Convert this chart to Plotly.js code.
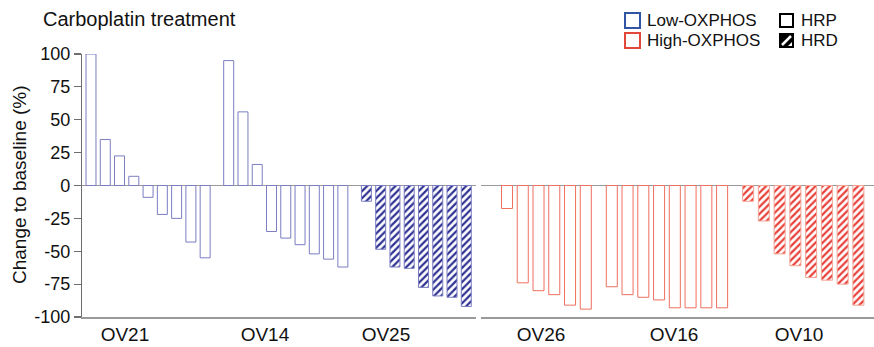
<!DOCTYPE html>
<html>
<head>
<meta charset="utf-8">
<script src="https://cdn.plot.ly/plotly-3.0.1.min.js"></script>
<style>html,body{margin:0;padding:0;background:#fff;}#chart{width:874px;height:347px;}</style>
</head>
<body>
<div id="chart"></div>
<script>
// ---- data ----
const leftGroups = ['OV21', 'OV14', 'OV25'];
const rightGroups = ['OV26', 'OV16', 'OV10'];
const OV21 = [100, 35, 22.5, 7, -9, -22, -25, -43, -55];
const OV14 = [95, 56, 16, -35, -40, -45, -52, -56, -62];
const OV25 = [-12, -48.5, -62, -63, -77.5, -84, -85, -92];
const OV26 = [-17.5, -74, -80, -83, -91, -94];
const OV16 = [-77, -83, -85, -87, -93, -93, -93, -93];
const OV10 = [-12, -27, -52, -61, -70, -72, -75, -91];
const leftHRD = [false, false, true];
const rightHRD = [false, false, true];
const yTicks = [100, 75, 50, 25, 0, -25, -50, -75, -100];

// ---- layout constants ----
const W = 874, H = 347;
const M = {l: 82, r: 0, t: 54, b: 30};
const PW = W - M.l - M.r, PH = H - M.t - M.b;
const GAP = 0.65;
const BARW = 0.7;
const leftLabelOff = [2.38, 2.54, 1.37];
const rightLabelOff = [2.16, 3.95, 3.23];
const FONT = 'Arial, "Liberation Sans", Helvetica, sans-serif';

function groupPositions(groups) {
  let count = 0;
  return groups.map((vals, i) => {
    const start = count + i * GAP;
    count += vals.length;
    return {start: start, xs: vals.map((_, j) => start + j)};
  });
}

const leftVals = [OV21, OV14, OV25];
const rightVals = [OV26, OV16, OV10];
const leftPos = groupPositions(leftVals);
const rightPos = groupPositions(rightVals);

const styles = {
  left:  {line: '#7b7dc2', fg: '#2e3192'},
  right: {line: '#ef6f60', fg: '#e8403a', hatchLine: '#f3a494'}
};

const traces = [];
function addTraces(vals, pos, hrd, side, xa) {
  vals.forEach((v, i) => {
    const st = styles[side];
    const marker = {color: '#ffffff', line: {color: st.line, width: 1}};
    if (hrd[i]) {
      marker.pattern = {shape: '/', fgcolor: st.fg, bgcolor: '#ffffff', size: 5, solidity: 0.45, fillmode: 'replace'};
      marker.line = {color: st.hatchLine || st.line, width: 1};
    }
    traces.push({type: 'bar', x: pos[i].xs, y: v, width: BARW, xaxis: xa, yaxis: 'y',
      marker: marker, showlegend: false, hoverinfo: 'skip'});
  });
}
addTraces(leftVals, leftPos, leftHRD, 'left', 'x');
addTraces(rightVals, rightPos, rightHRD, 'right', 'x2');

function px(x) { return (x - M.l) / PW; }
function py(y) { return (H - M.b - y) / PH; }

const shapes = [
  {type: 'rect', xref: 'paper', yref: 'paper', x0: px(625), x1: px(640), y0: py(28), y1: py(13), line: {color: '#2f55a4', width: 2}},
  {type: 'rect', xref: 'paper', yref: 'paper', x0: px(625), x1: px(640), y0: py(48), y1: py(33), line: {color: '#e2483a', width: 2}},
  {type: 'rect', xref: 'paper', yref: 'paper', x0: px(780), x1: px(793), y0: py(27), y1: py(14), line: {color: '#000', width: 2}},
  {type: 'rect', xref: 'paper', yref: 'paper', x0: px(780), x1: px(793), y0: py(47), y1: py(34), line: {color: '#000', width: 2}, fillcolor: '#000'},
  {type: 'line', xref: 'paper', yref: 'paper', x0: px(782), x1: px(791), y0: py(45), y1: py(36), line: {color: '#fff', width: 2.5}},
  {type: 'path', xref: 'paper', yref: 'paper', path: 'M ' + px(788) + ' ' + py(46) + ' L ' + px(792) + ' ' + py(46) + ' L ' + px(792) + ' ' + py(42) + ' Z', fillcolor: '#fff', line: {width: 0}}
];

const annotations = [
  {text: 'Low-OXPHOS', xref: 'paper', yref: 'paper', x: px(645), y: py(21), xanchor: 'left', yanchor: 'middle', showarrow: false, font: {size: 17, color: '#111', family: FONT}},
  {text: 'High-OXPHOS', xref: 'paper', yref: 'paper', x: px(645), y: py(41), xanchor: 'left', yanchor: 'middle', showarrow: false, font: {size: 17, color: '#111', family: FONT}},
  {text: 'HRP', xref: 'paper', yref: 'paper', x: px(799), y: py(21), xanchor: 'left', yanchor: 'middle', showarrow: false, font: {size: 17, color: '#111', family: FONT}},
  {text: 'HRD', xref: 'paper', yref: 'paper', x: px(799), y: py(41), xanchor: 'left', yanchor: 'middle', showarrow: false, font: {size: 17, color: '#111', family: FONT}},
  {text: 'Change to baseline (%)', xref: 'paper', yref: 'paper', x: px(19), y: py(185), xanchor: 'center', yanchor: 'middle', textangle: -90, showarrow: false, font: {size: 19, color: '#111', family: FONT}}
];

const layout = {
  width: W, height: H,
  margin: M,
  paper_bgcolor: '#fff', plot_bgcolor: '#fff',
  font: {family: FONT, color: '#111'},
  title: {text: 'Carboplatin treatment', xref: 'container', yref: 'container', x: 43 / W, xanchor: 'left', y: 1 - 18.5 / H, yanchor: 'middle', font: {size: 20, color: '#111', family: FONT}},
  barmode: 'overlay',
  xaxis: {domain: [0, px(476)], range: [-0.63, 26.98], anchor: 'y', showgrid: false, zeroline: false,
    showline: true, linecolor: '#9a9a9a', linewidth: 1.5,
    tickmode: 'array', tickvals: leftPos.map((p, i) => p.start + leftLabelOff[i]), ticktext: leftGroups,
    ticks: '', tickfont: {size: 19, color: '#111'}, fixedrange: true},
  xaxis2: {domain: [px(481), 1], range: [-1.65, 23.29], anchor: 'y', showgrid: false, zeroline: false,
    showline: true, linecolor: '#9a9a9a', linewidth: 1.5,
    tickmode: 'array', tickvals: rightPos.map((p, i) => p.start + rightLabelOff[i]), ticktext: rightGroups,
    ticks: '', tickfont: {size: 19, color: '#111'}, fixedrange: true},
  yaxis: {range: [-100, 100], anchor: 'x', showgrid: false, zeroline: true, zerolinecolor: '#9a9a9a', zerolinewidth: 1.5,
    showline: true, linecolor: '#6e6e6e', linewidth: 1.2, ticks: 'outside', ticklen: 7, tickcolor: '#6e6e6e', tickwidth: 1.2,
    tickmode: 'array', tickvals: yTicks, ticktext: yTicks.map(String), tickfont: {size: 18, color: '#111'}, fixedrange: true},
  shapes: shapes,
  annotations: annotations
};

Plotly.newPlot('chart', traces, layout, {displayModeBar: false, staticPlot: true});
</script>
</body>
</html>
